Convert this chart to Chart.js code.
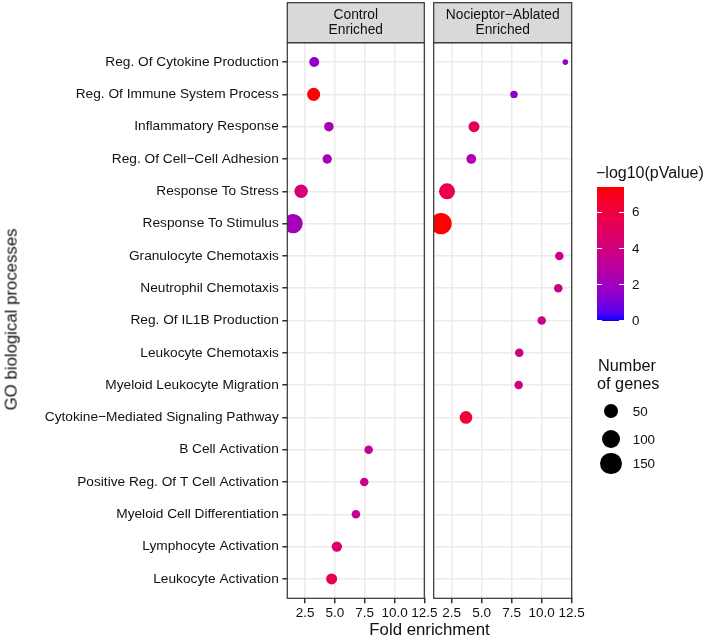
<!DOCTYPE html>
<html>
<head>
<meta charset="utf-8">
<script src="https://cdn.jsdelivr.net/npm/chart.js@4.4.1/dist/chart.umd.min.js"></script>
<style>
body { margin: 0; background: #fff; font-family: "Liberation Sans", Arial, sans-serif; }
#wrap { position: relative; width: 711px; height: 639px; overflow: hidden; }
.box { position: absolute; top: 0; height: 639px; }
.txt { position: absolute; color: #111; white-space: nowrap; line-height: 1; }
</style>
</head>
<body>
<div id="wrap">
  <div class="box" style="left:0;width:450px"><canvas id="controlChart"></canvas></div>
  <div class="box" style="left:410px;width:301px"><canvas id="ablatedChart"></canvas></div>
  <div class="txt" id="yTitle" style="left:-188px;top:311px;width:400px;text-align:center;font-size:16.8px;transform:rotate(-90deg)">GO biological processes</div>
  <div class="txt" style="left:229.5px;top:621.5px;width:400px;text-align:center;font-size:16.8px">Fold enrichment</div>
  <div id="legend"></div>
</div>
<script>
// GO terms, top to bottom
const processes = [
  "Reg. Of Cytokine Production",
  "Reg. Of Immune System Process",
  "Inflammatory Response",
  "Reg. Of Cell\u2212Cell Adhesion",
  "Response To Stress",
  "Response To Stimulus",
  "Granulocyte Chemotaxis",
  "Neutrophil Chemotaxis",
  "Reg. Of IL1B Production",
  "Leukocyte Chemotaxis",
  "Myeloid Leukocyte Migration",
  "Cytokine\u2212Mediated Signaling Pathway",
  "B Cell Activation",
  "Positive Reg. Of T Cell Activation",
  "Myeloid Cell Differentiation",
  "Lymphocyte Activation",
  "Leukocyte Activation"
];

// Control Enriched panel
const controlFold  = [3.26, 3.21, 4.49, 4.35, 2.16, 1.48, null, null, null, null, null, null, 7.83, 7.46, 6.76, 5.16, 4.72];
const controlLogP  = [1.6, 7.3, 2.4, 2.1, 4.3, 2.1, null, null, null, null, null, null, 3.4, 3.6, 3.5, 4.6, 5.4];
const controlGenes = [16, 37, 14, 13, 40, 116, null, null, null, null, null, null, 10, 10, 10, 18, 22];

// Nocieptor-Ablated Enriched panel
const ablatedFold  = [11.97, 7.69, 4.36, 4.13, 2.11, 1.61, 11.47, 11.38, 10.0, 8.13, 8.08, 3.69, null, null, null, null, null];
const ablatedLogP  = [1.6, 1.4, 5.3, 2.6, 5.8, 7.39, 3.9, 3.8, 3.7, 3.9, 3.8, 6.2, null, null, null, null, null];
const ablatedGenes = [5, 7, 22, 15, 68, 150, 10, 10, 10, 10, 10, 34, null, null, null, null, null];

const xTicks = [2.5, 5.0, 7.5, 10.0, 12.5];
const pTicks = [0, 2, 4, 6];
const geneLegend = [50, 100, 150];
const pMax = 7.39;

const FONT = '"Liberation Sans", Arial, sans-serif';

// bubble size: area scale like ggplot
function radius(n) {
  return 2.8 + 7.9 * Math.sqrt(Math.max(0, n - 5) / 145);
}

// blue -> red gradient interpolated in Lab
function lin(c) { c /= 255; return c <= 0.04045 ? c / 12.92 : Math.pow((c + 0.055) / 1.055, 2.4); }
function unlin(c) {
  c = c <= 0.0031308 ? 12.92 * c : 1.055 * Math.pow(c, 1 / 2.4) - 0.055;
  return Math.round(Math.max(0, Math.min(1, c)) * 255);
}
function toLab(rgb) {
  const r = lin(rgb[0]), g = lin(rgb[1]), b = lin(rgb[2]);
  const X = (0.4124 * r + 0.3576 * g + 0.1805 * b) / 0.95047;
  const Y = 0.2126 * r + 0.7152 * g + 0.0722 * b;
  const Z = (0.0193 * r + 0.1192 * g + 0.9505 * b) / 1.08883;
  const f = t => t > 0.008856 ? Math.cbrt(t) : 7.787 * t + 16 / 116;
  const fx = f(X), fy = f(Y), fz = f(Z);
  return [116 * fy - 16, 500 * (fx - fy), 200 * (fy - fz)];
}
function fromLab(lab) {
  const fy = (lab[0] + 16) / 116, fx = fy + lab[1] / 500, fz = fy - lab[2] / 200;
  const fi = t => t * t * t > 0.008856 ? t * t * t : (t - 16 / 116) / 7.787;
  const X = fi(fx) * 0.95047, Y = fi(fy), Z = fi(fz) * 1.08883;
  const r = 3.2406 * X - 1.5372 * Y - 0.4986 * Z;
  const g = -0.9689 * X + 1.8758 * Y + 0.0415 * Z;
  const b = 0.0557 * X - 0.2040 * Y + 1.0570 * Z;
  return "rgb(" + unlin(r) + "," + unlin(g) + "," + unlin(b) + ")";
}
const labLow = toLab([0, 0, 255]), labHigh = toLab([255, 0, 0]);
function pColor(v) {
  const t = Math.max(0, Math.min(1, v / pMax));
  return fromLab(labLow.map((c, i) => c + (labHigh[i] - c) * t));
}

// panel border + grey strip on top
const panelFrame = {
  id: "panelFrame",
  afterDraw(chart, args, opts) {
    const { ctx, chartArea: a } = chart;
    const w = a.right - a.left, top = 2.7;
    ctx.save();
    ctx.strokeStyle = "#333";
    ctx.lineWidth = 1.2;
    ctx.strokeRect(a.left, a.top, w, a.bottom - a.top);
    ctx.fillStyle = "#d9d9d9";
    ctx.fillRect(a.left, top, w, a.top - top);
    ctx.strokeRect(a.left, top, w, a.top - top);
    ctx.fillStyle = "#111";
    ctx.font = "13.8px " + FONT;
    ctx.textAlign = "center";
    ctx.textBaseline = "middle";
    opts.lines.forEach((t, i) => ctx.fillText(t, (a.left + a.right) / 2, 15.5 + i * 14.3));
    ctx.restore();
  }
};

function makePanel(id, fold, logp, genes, showY, pad, lines) {
  const points = [];
  fold.forEach((f, i) => {
    if (f != null) points.push({ x: f, y: i, r: radius(genes[i]), p: logp[i] });
  });
  return new Chart(document.getElementById(id), {
    type: "bubble",
    data: {
      datasets: [{
        data: points,
        backgroundColor: c => pColor(c.raw.p),
        borderWidth: 0,
        hoverBorderWidth: 0,
        clip: 0
      }]
    },
    options: {
      responsive: true,
      maintainAspectRatio: false,
      animation: false,
      events: [],
      layout: { padding: pad },
      plugins: { legend: { display: false }, tooltip: { enabled: false }, panelFrame: { lines: lines } },
      scales: {
        x: {
          type: "linear", min: 1.0, max: 12.5,
          afterBuildTicks: s => { s.ticks = xTicks.map(v => ({ value: v })); },
          afterFit: s => { s.height = 40.7; },
          ticks: { callback: v => v.toFixed(1), font: { size: 13.5, family: FONT }, color: "#111", padding: 1.5, maxRotation: 0, autoSkip: false },
          grid: { color: "#ebebeb", lineWidth: 1.5, tickColor: "#333", tickLength: 5 },
          border: { display: false }
        },
        y: {
          type: "linear", reverse: true, min: -0.6, max: 16.6,
          afterBuildTicks: s => { s.ticks = processes.map((_, i) => ({ value: i })); },
          afterFit: s => { s.width = showY ? 287.3 : 0; },
          ticks: { display: showY, callback: v => processes[v], font: { size: 13.7, family: FONT }, color: "#111", padding: 3.5, autoSkip: false },
          grid: { color: "#ebebeb", lineWidth: 1.5, tickColor: "#333", tickLength: 5, drawTicks: showY },
          border: { display: false }
        }
      }
    },
    plugins: [panelFrame]
  });
}

makePanel("controlChart", controlFold, controlLogP, controlGenes, true,
  { top: 42.7, right: 25.7, left: 0, bottom: 0 }, ["Control", "Enriched"]);
makePanel("ablatedChart", ablatedFold, ablatedLogP, ablatedGenes, false,
  { top: 42.7, right: 139.3, left: 23.7, bottom: 0 }, ["Nocieptor\u2212Ablated", "Enriched"]);

// legends
const legend = document.getElementById("legend");
function addText(t, left, cy, size) {
  const d = document.createElement("div");
  d.className = "txt";
  d.style.left = left + "px";
  d.style.top = (cy - size / 2) + "px";
  d.style.fontSize = size + "px";
  d.textContent = t;
  legend.appendChild(d);
}
addText("\u2212log10(pValue)", 596, 173, 16);

const barTop = 187, barBottom = 320.7, barLeft = 597, barW = 27;
const stops = [];
for (let i = 0; i <= 20; i++) stops.push(pColor(pMax * i / 20) + " " + (i * 5) + "%");
const bar = document.createElement("div");
bar.style.cssText = "position:absolute;left:" + barLeft + "px;top:" + barTop + "px;width:" + barW + "px;height:" + (barBottom - barTop) + "px;background:linear-gradient(to top," + stops.join(",") + ")";
legend.appendChild(bar);
pTicks.forEach(v => {
  const y = barBottom - (barBottom - barTop) * v / pMax;
  [barLeft, barLeft + barW - 5].forEach(x => {
    const t = document.createElement("div");
    t.style.cssText = "position:absolute;left:" + x + "px;top:" + (y - 0.5) + "px;width:5px;height:1px;background:#fff";
    legend.appendChild(t);
  });
  addText(String(v), 632, y, 13.4);
});

addText("Number", 598, 365, 16.3);
addText("of genes", 597, 382.7, 16.3);
const geneY = [411.3, 439.3, 463.3];
geneLegend.forEach((n, i) => {
  const r = radius(n);
  const c = document.createElement("div");
  c.style.cssText = "position:absolute;left:" + (611 - r) + "px;top:" + (geneY[i] - r) + "px;width:" + (2 * r) + "px;height:" + (2 * r) + "px;border-radius:50%;background:#000";
  legend.appendChild(c);
  addText(String(n), 632.7, geneY[i], 13.4);
});
</script>
</body>
</html>
